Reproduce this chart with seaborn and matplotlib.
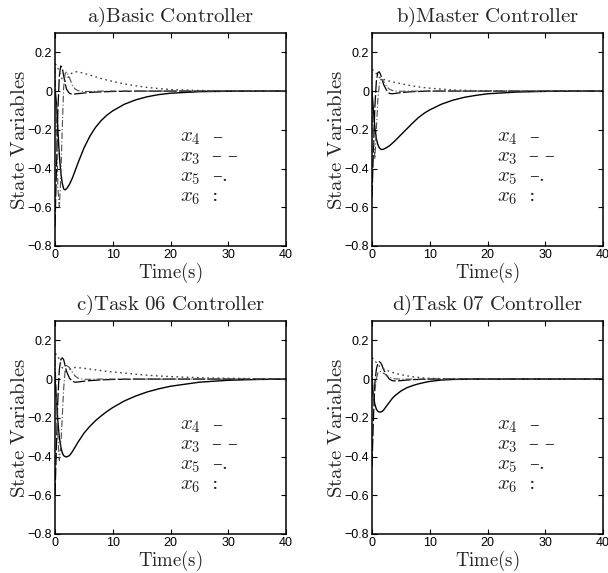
import matplotlib
matplotlib.use("Agg")
import matplotlib.pyplot as plt
import seaborn as sns
import pandas as pd

# ---- data -------------------------------------------------------------
T = [0, 0.25, 0.5, 0.75, 1, 1.25, 1.5, 1.75, 2, 2.5, 3, 3.5, 4, 5, 6, 7,
     8, 9, 10, 12, 14, 16, 18, 20, 25, 30, 35, 40]

# a) Basic controller
x4_a = [0, -0.06, -0.2, -0.33, -0.42, -0.475, -0.505, -0.51, -0.505, -0.482, -0.45, -0.41,
        -0.37, -0.295, -0.235, -0.188, -0.152, -0.124, -0.102, -0.068, -0.045, -0.029,
        -0.018, -0.011, -0.003, -0.001, 0, 0]
x3_a = [-0.7, -0.4, -0.1, 0.08, 0.13, 0.12, 0.08, 0.04, 0.01, -0.012, -0.016, -0.015,
        -0.013, -0.01, -0.007, -0.005, -0.004, -0.003, -0.002, -0.001, 0, 0, 0, 0, 0, 0, 0, 0]
x5_a = [0.12, -0.15, -0.5, -0.6, -0.45, -0.2, 0.02, 0.09, 0.1, 0.07, 0.03, 0.01,
        0.002, -0.002, -0.002, -0.001, 0, 0, 0, 0, 0, 0, 0, 0, 0, 0, 0, 0]
x6_a = [0.14, 0.135, 0.12, 0.1, 0.08, 0.06, 0.05, 0.05, 0.06, 0.08, 0.095, 0.1,
        0.099, 0.092, 0.083, 0.074, 0.065, 0.057, 0.05, 0.037, 0.027, 0.019,
        0.013, 0.008, 0.003, 0.001, 0, 0]

# b) Master controller
x4_b = [0, -0.1, -0.19, -0.245, -0.275, -0.292, -0.3, -0.302, -0.3, -0.292, -0.283, -0.27,
        -0.256, -0.226, -0.196, -0.166, -0.138, -0.115, -0.097, -0.068, -0.047, -0.032,
        -0.022, -0.014, -0.005, -0.0015, 0, 0]
x3_b = [-0.55, -0.3, -0.08, 0.05, 0.095, 0.1, 0.085, 0.06, 0.035, 0.005, -0.012, -0.014,
        -0.012, -0.008, -0.005, -0.003, -0.002, -0.001, 0, 0, 0, 0, 0, 0, 0, 0, 0, 0]
x5_b = [0.0, -0.25, -0.35, -0.2, -0.05, 0.03, 0.06, 0.06, 0.05, 0.025, 0.01, 0.003,
        0, -0.001, 0, 0, 0, 0, 0, 0, 0, 0, 0, 0, 0, 0, 0, 0]
x6_b = [0.11, 0.108, 0.1, 0.09, 0.08, 0.072, 0.066, 0.062, 0.06, 0.056, 0.052, 0.048,
        0.045, 0.038, 0.032, 0.027, 0.022, 0.018, 0.015, 0.01, 0.006, 0.004,
        0.002, 0.001, 0, 0, 0, 0]

# c) Task 06 controller
x4_c = [0, -0.1, -0.22, -0.3, -0.35, -0.38, -0.395, -0.4, -0.402, -0.395, -0.375, -0.35,
        -0.325, -0.28, -0.245, -0.215, -0.19, -0.167, -0.147, -0.113, -0.087, -0.066,
        -0.05, -0.037, -0.016, -0.006, -0.002, 0]
x3_c = [-0.6, -0.35, -0.1, 0.05, 0.1, 0.11, 0.1, 0.07, 0.04, 0.005, -0.012, -0.016,
        -0.015, -0.011, -0.008, -0.006, -0.004, -0.003, -0.002, -0.001, 0, 0, 0, 0, 0, 0, 0, 0]
x5_c = [0.1, -0.1, -0.3, -0.42, -0.35, -0.2, -0.05, 0.04, 0.07, 0.06, 0.035, 0.015,
        0.005, -0.001, -0.001, 0, 0, 0, 0, 0, 0, 0, 0, 0, 0, 0, 0, 0]
x6_c = [0.13, 0.128, 0.12, 0.1, 0.08, 0.06, 0.045, 0.04, 0.042, 0.05, 0.057, 0.06,
        0.059, 0.056, 0.052, 0.048, 0.044, 0.04, 0.037, 0.031, 0.025, 0.02,
        0.016, 0.013, 0.007, 0.004, 0.002, 0.001]

# d) Task 07 controller
x4_d = [0, -0.09, -0.13, -0.155, -0.166, -0.17, -0.17, -0.167, -0.16, -0.14, -0.12, -0.1,
        -0.085, -0.062, -0.045, -0.034, -0.025, -0.018, -0.012, -0.005, -0.002, -0.001,
        0, 0, 0, 0, 0, 0]
x3_d = [-0.45, -0.2, -0.02, 0.05, 0.08, 0.09, 0.085, 0.07, 0.05, 0.02, 0.0, -0.008,
        -0.01, -0.008, -0.005, -0.003, -0.002, -0.001, 0, 0, 0, 0, 0, 0, 0, 0, 0, 0]
x5_d = [0.05, -0.1, -0.06, 0.0, 0.03, 0.04, 0.04, 0.035, 0.03, 0.02, 0.01, 0.004,
        0.001, 0, 0, 0, 0, 0, 0, 0, 0, 0, 0, 0, 0, 0, 0, 0]
x6_d = [0.11, 0.105, 0.095, 0.085, 0.075, 0.068, 0.062, 0.057, 0.053, 0.046, 0.04, 0.035,
        0.03, 0.023, 0.017, 0.012, 0.009, 0.006, 0.004, 0.002, 0.001, 0,
        0, 0, 0, 0, 0, 0]

titles = ["a)Basic Controller", "b)Master Controller",
          "c)Task 06 Controller", "d)Task 07 Controller"]
panels = [(x4_a, x3_a, x5_a, x6_a), (x4_b, x3_b, x5_b, x6_b),
          (x4_c, x3_c, x5_c, x6_c), (x4_d, x3_d, x5_d, x6_d)]
series_names = ["x_4", "x_3", "x_5", "x_6"]
legend_marks = ["\u2013", "\u2013 \u2013", "\u2013.", ":"]
xticks = [0, 10, 20, 30, 40]
yticks = [-0.8, -0.6, -0.4, -0.2, 0, 0.2]
ytick_labels = ["\u22120.8", "\u22120.6", "\u22120.4", "\u22120.2", "0", "0.2"]

# ---- style ------------------------------------------------------------
sns.set_style("ticks")
plt.rcParams["font.family"] = ["Liberation Sans", "DejaVu Sans"]
plt.rcParams["mathtext.fontset"] = "cm"

styles = [
    dict(color="k", lw=1.0, dashes=None),
    dict(color="k", lw=0.9, dashes=(10, 2)),
    dict(color="0.3", lw=0.8, dashes=(6, 2, 1, 2)),
    dict(color="0.25", lw=1.0, dashes=(1.2, 2.5)),
]

fig = plt.figure(figsize=(6.08, 5.73), dpi=100)
W, H = 608, 573
lefts = [55, 372]
tops = [33, 321]
aw, ah = 231, 213

for i, (title, series) in enumerate(zip(titles, panels)):
    col, row = i % 2, i // 2
    ax = fig.add_axes([lefts[col] / W, 1 - (tops[row] + ah) / H, aw / W, ah / H])
    for vals, name, st in zip(series, series_names, styles):
        df = pd.DataFrame({"t": T, "v": vals})
        sns.lineplot(data=df, x="t", y="v", ax=ax, color=st["color"], lw=st["lw"])
        if st["dashes"] is not None:
            ax.lines[-1].set_dashes(st["dashes"])
    ax.set_xlim(0, 40)
    ax.set_ylim(-0.8, 0.3)
    ax.set_xticks(xticks)
    ax.set_xticklabels([str(v) for v in xticks])
    ax.set_yticks(yticks)
    ax.set_yticklabels(ytick_labels)
    ax.tick_params(direction="in", top=True, right=True, length=3.5,
                   width=0.8, labelsize=9, pad=2, colors="k")
    for s in ax.spines.values():
        s.set_linewidth(1.1)
        s.set_color("k")
    ax.set_title(r"$\mathrm{" + title.replace(" ", r"\ ") + "}$",
                 fontsize=15, pad=8)
    ax.set_xlabel(r"$\mathrm{Time(s)}$", fontsize=13.5, labelpad=0)
    ax.set_ylabel(r"$\mathrm{State\ Variables}$", fontsize=15, labelpad=-1)

    # text legend
    base = [0.490, 0.399, 0.305, 0.211]
    for name, mark, yb in zip(series_names, legend_marks, base):
        ax.text(0.541, yb, "$" + name + "$", transform=ax.transAxes,
                fontsize=15, va="baseline", ha="left")
        ax.text(0.680, yb, mark, transform=ax.transAxes, fontsize=14,
                family="DejaVu Serif", va="baseline", ha="left")

fig.savefig("out.png", dpi=100)
